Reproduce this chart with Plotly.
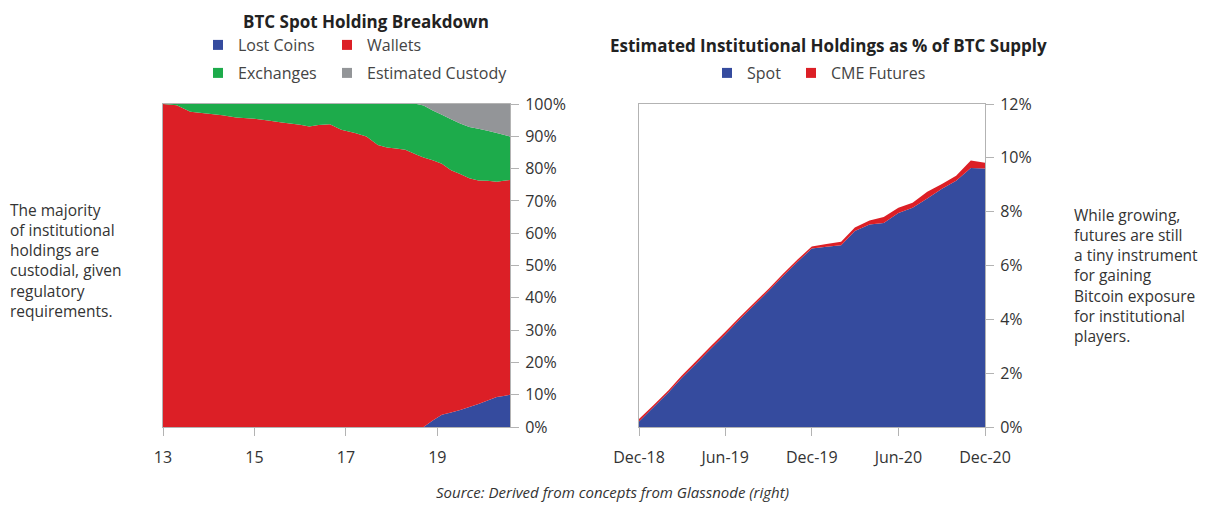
import plotly.graph_objects as go

# --- left chart: BTC spot holding breakdown (share of supply, %) ---
years = [13.0, 13.3, 13.6, 14.0, 14.3, 14.6, 15.0, 15.3, 15.6, 16.0, 16.2, 16.4,
         16.65, 16.9, 17.2, 17.45, 17.7, 17.9, 18.1, 18.3, 18.55, 18.7, 18.9, 19.1,
         19.3, 19.5, 19.7, 19.9, 20.1, 20.3, 20.45, 20.59]
lost_coins = [0, 0, 0, 0, 0, 0, 0, 0, 0, 0, 0, 0,
              0, 0, 0, 0, 0, 0, 0, 0, 0, 0, 2.0, 3.8,
              4.5, 5.3, 6.2, 7.1, 8.2, 9.3, 9.6, 10.0]
wallets = [100, 99.6, 97.6, 97.0, 96.5, 95.8, 95.4, 94.9, 94.3, 93.6, 93.0, 93.5,
           93.7, 92.0, 91.0, 89.9, 87.3, 86.5, 86.2, 85.8, 84.3, 83.4, 80.6, 77.7,
           75.0, 73.0, 70.8, 69.2, 68.0, 66.6, 66.6, 66.5]
exchanges = [0, 0.4, 2.4, 3.0, 3.5, 4.2, 4.6, 5.1, 5.7, 6.4, 7.0, 6.5,
             6.3, 8.0, 9.0, 10.1, 12.7, 13.5, 13.8, 14.2, 15.7, 16.1, 15.4, 15.2,
             15.8, 15.7, 15.9, 16.0, 15.5, 15.1, 14.3, 13.4]
custody = [0, 0, 0, 0, 0, 0, 0, 0, 0, 0, 0, 0,
           0, 0, 0, 0, 0, 0, 0, 0, 0, 0.5, 2.0, 3.3,
           4.7, 6.0, 7.1, 7.7, 8.3, 9.0, 9.5, 10.1]
year_ticks = [13, 15, 17, 19]

# --- right chart: institutional holdings as % of BTC supply ---
months = ["2018-12-01", "2019-01-01", "2019-02-01", "2019-03-01", "2019-04-01",
          "2019-05-01", "2019-06-01", "2019-07-01", "2019-08-01", "2019-09-01",
          "2019-10-01", "2019-11-01", "2019-12-01", "2020-01-01", "2020-02-01",
          "2020-03-01", "2020-04-01", "2020-05-01", "2020-06-01", "2020-07-01",
          "2020-08-01", "2020-09-01", "2020-10-01", "2020-11-01", "2020-12-01"]
spot = [0.20, 0.74, 1.28, 1.82, 2.36, 2.90, 3.44, 3.98, 4.52, 5.06, 5.60, 6.14, 6.63,
        6.70, 6.75, 7.28, 7.52, 7.58, 7.95, 8.15, 8.49, 8.85, 9.15, 9.62, 9.60]
cme_futures = [0.10, 0.08, 0.08, 0.08, 0.09, 0.09, 0.09, 0.09, 0.09, 0.08, 0.08, 0.08, 0.08,
               0.10, 0.13, 0.13, 0.15, 0.22, 0.20, 0.18, 0.25, 0.18, 0.18, 0.28, 0.22]
month_ticks = ["2018-12-01", "2019-06-01", "2019-12-01", "2020-06-01", "2020-12-01"]

BLUE = "#354B9E"
RED = "#DC1F26"
GREEN = "#1DAB4B"
GRAY = "#939598"
TEXT = "#333333"
LINE = "#B3B3B3"
FONT = "Open Sans"

W, H = 1215, 506
PAGE = 8  # the page body adds an 8px offset around the figure


def px(x):
    return (x - PAGE) / W


def py(y):
    return 1 - (y - PAGE) / H


fig = go.Figure()

for name, vals, col in [("Lost Coins", lost_coins, BLUE), ("Wallets", wallets, RED),
                        ("Exchanges", exchanges, GREEN), ("Estimated Custody", custody, GRAY)]:
    fig.add_trace(go.Scatter(x=years, y=vals, name=name, mode="none", stackgroup="left",
                             fillcolor=col, showlegend=False, xaxis="x", yaxis="y"))

for name, vals, col in [("Spot", spot, BLUE), ("CME Futures", cme_futures, RED)]:
    fig.add_trace(go.Scatter(x=months, y=vals, name=name, mode="none", stackgroup="right",
                             fillcolor=col, showlegend=False, xaxis="x2", yaxis="y2"))

# one legend per entry so each swatch sits where it does in the original
legend_items = [("Lost Coins", BLUE, 218, 45), ("Wallets", RED, 347, 45),
                ("Exchanges", GREEN, 218, 73), ("Estimated Custody", GRAY, 347, 73),
                ("Spot", BLUE, 727, 73), ("CME Futures", RED, 811, 73)]
legend_layout = {}
for i, (name, col, lx, ly) in enumerate(legend_items):
    key = "legend" if i == 0 else f"legend{i + 1}"
    fig.add_trace(go.Scatter(x=[None], y=[None], name=name, mode="markers",
                             marker=dict(symbol="square", size=10, color=col),
                             legend=key, xaxis="x", yaxis="y"))
    legend_layout[key] = dict(x=px(lx - 20), y=py(ly), xanchor="left", yanchor="middle",
                              orientation="h", bgcolor="rgba(0,0,0,0)",
                              font=dict(family=FONT, size=16, color="#444444"))

axis_common = dict(showgrid=False, zeroline=False, showline=True, linecolor=LINE, linewidth=1,
                   mirror=True, ticks="outside", ticklen=8, tickcolor=LINE, tickwidth=1,
                   automargin=False, tickfont=dict(family=FONT, size=16, color=TEXT))

fig.update_layout(
    width=W, height=H,
    margin=dict(l=0, r=0, t=0, b=0, autoexpand=False),
    paper_bgcolor="white", plot_bgcolor="white",
    font=dict(family=FONT, color=TEXT),
    xaxis=dict(domain=[px(163), px(510)], range=[13, 20.59], tickvals=year_ticks,
               ticklabelstandoff=8, anchor="y", **axis_common),
    yaxis=dict(domain=[py(427), py(104)], range=[0, 100], dtick=10, ticksuffix="%",
               side="right", anchor="x", ticklabelstandoff=3, **axis_common),
    xaxis2=dict(domain=[px(639), px(985)], type="date",
                range=["2018-12-01", "2020-12-01"], tickvals=month_ticks, tickformat="%b-%y",
                ticklabelstandoff=8, anchor="y2", **axis_common),
    yaxis2=dict(domain=[py(427), py(104)], range=[0, 12], dtick=2, ticksuffix="%",
                side="right", anchor="x2", ticklabelstandoff=3, **axis_common),
    showlegend=True,
    **legend_layout,
)

fig.add_annotation(text="<b>BTC Spot Holding Breakdown</b>", x=px(366), y=py(PAGE + 1),
                   xref="paper", yref="paper", showarrow=False, xanchor="center", yanchor="top",
                   borderpad=0, font=dict(family=FONT, size=17, color="#222222"))
fig.add_annotation(text="<b>Estimated Institutional Holdings as % of BTC Supply</b>",
                   x=px(828), y=py(45), xref="paper", yref="paper", showarrow=False,
                   xanchor="center", yanchor="middle",
                   font=dict(family=FONT, size=17, color="#222222"))
fig.add_annotation(text="The majority<br>of institutional<br>holdings are<br>custodial, given"
                        "<br>regulatory<br>requirements.",
                   x=px(8), y=py(260), xref="paper", yref="paper", showarrow=False,
                   xanchor="left", yanchor="middle", align="left",
                   font=dict(family=FONT, size=15.5, color=TEXT))
fig.add_annotation(text="While growing,<br>futures are still<br>a tiny instrument<br>for gaining"
                        "<br>Bitcoin exposure<br>for institutional<br>players.",
                   x=px(1072), y=py(275), xref="paper", yref="paper", showarrow=False,
                   xanchor="left", yanchor="middle", align="left",
                   font=dict(family=FONT, size=15.5, color=TEXT))
fig.add_annotation(text="<i>Source: Derived from concepts from Glassnode (right)</i>",
                   x=px(612), y=py(492), xref="paper", yref="paper", showarrow=False,
                   xanchor="center", yanchor="middle",
                   font=dict(family=FONT, size=15, color=TEXT))

fig.write_html("out.html")
